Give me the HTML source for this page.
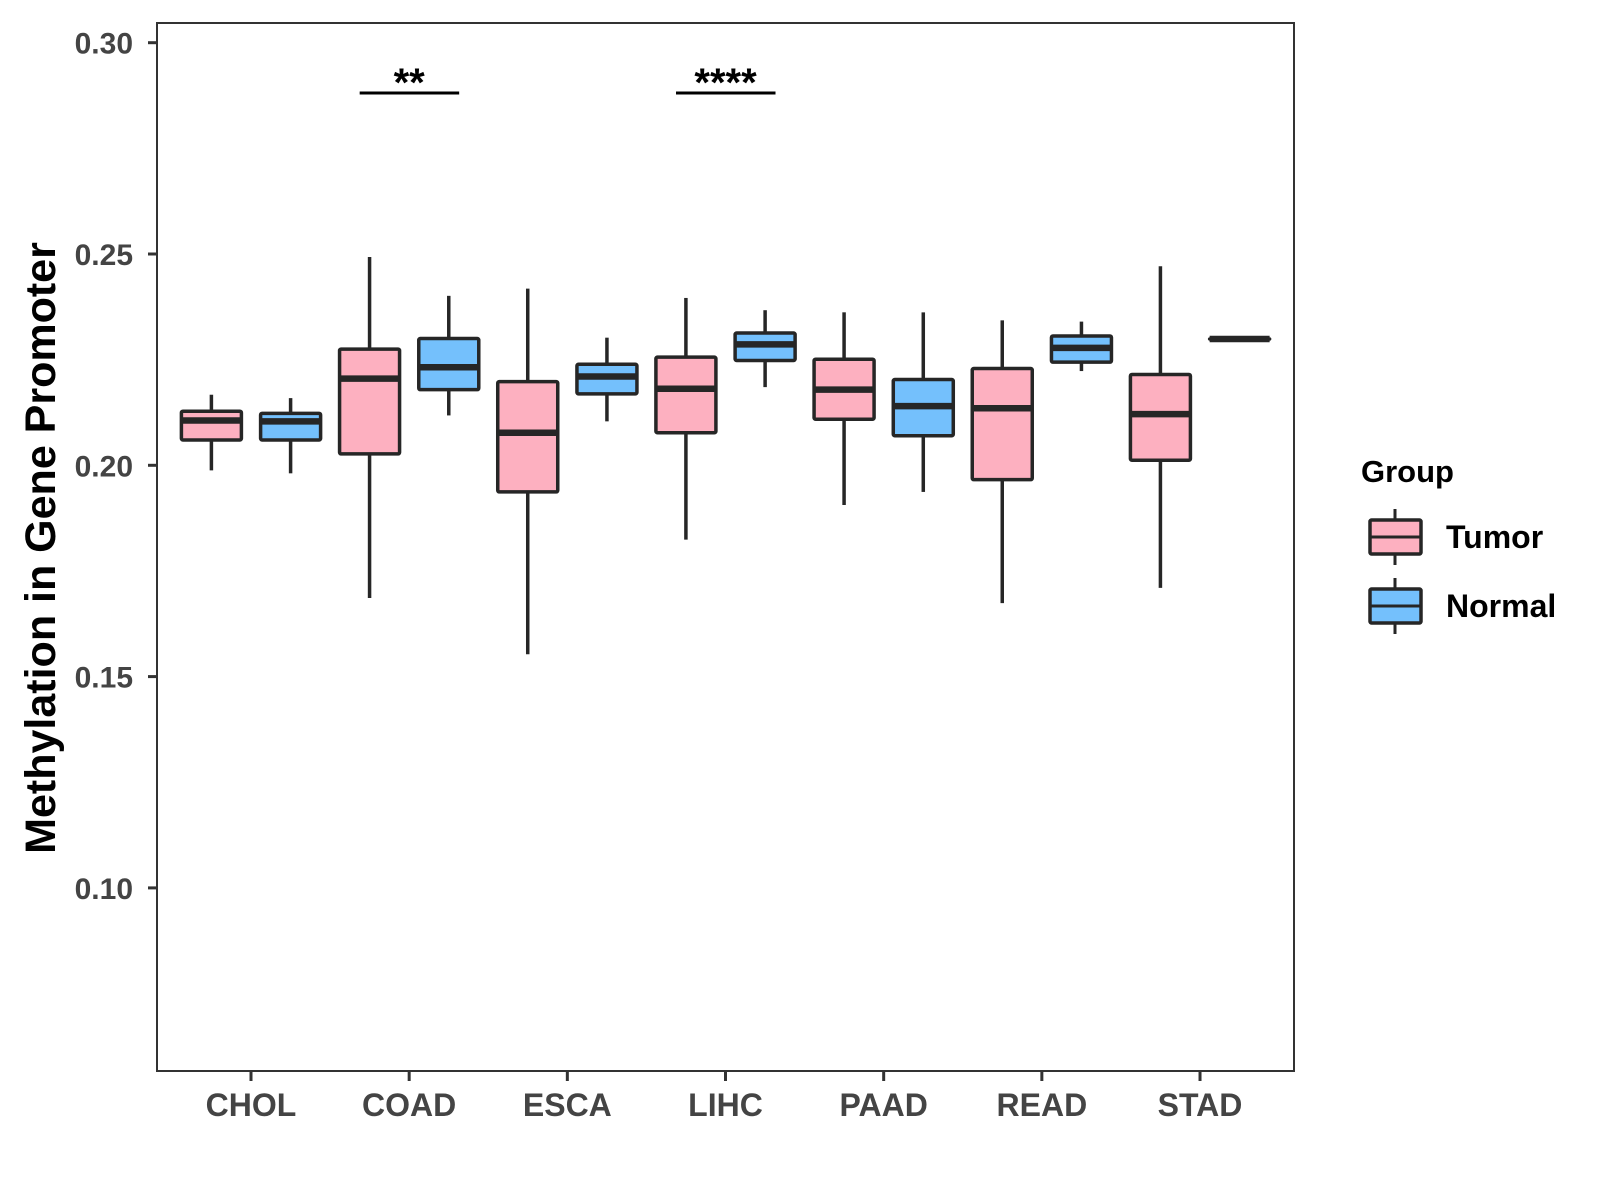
<!DOCTYPE html>
<html><head><meta charset="utf-8"><style>
html,body{margin:0;padding:0;background:#fff;width:1600px;height:1200px;overflow:hidden}
svg text{font-family:"Liberation Sans",Arial,sans-serif;font-weight:bold}
</style></head><body>
<svg id="chart" width="1600" height="1200" xmlns="http://www.w3.org/2000/svg"></svg>
<script>
const categories=["CHOL","COAD","ESCA","LIHC","PAAD","READ","STAD"];
const tumorLow=[0.1988,0.1686,0.1553,0.1824,0.1906,0.1674,0.1710];
const tumorQ1=[0.2060,0.2027,0.1937,0.2077,0.2109,0.1966,0.2012];
const tumorMed=[0.2106,0.2205,0.2077,0.2181,0.2179,0.2135,0.2121];
const tumorQ3=[0.2128,0.2275,0.2198,0.2256,0.2251,0.2229,0.2215];
const tumorHigh=[0.2167,0.2493,0.2418,0.2396,0.2362,0.2343,0.2471];
const normalLow=[0.1981,0.2118,0.2104,0.2185,0.1937,0.2223,0.2299];
const normalQ1=[0.2060,0.2179,0.2169,0.2248,0.2070,0.2244,0.2299];
const normalMed=[0.2104,0.2232,0.2210,0.2286,0.2140,0.2278,0.2299];
const normalQ3=[0.2123,0.2300,0.2239,0.2313,0.2203,0.2306,0.2299];
const normalHigh=[0.2159,0.2401,0.2302,0.2367,0.2362,0.2340,0.2299];
const yTicks=[0.10,0.15,0.20,0.25,0.30];
const yTickLabels=["0.10","0.15","0.20","0.25","0.30"];
const sigCats=["COAD","LIHC"];
const sigLabels=["**","****"];

const NS="http://www.w3.org/2000/svg";
const svg=document.getElementById('chart');
const L=157,R=1294,T=23,B=1071;
const y=v=>42.7+(0.30-v)*4226;
const xc=i=>251+i*158.17;
function el(tag,attrs,parent){const e=document.createElementNS(NS,tag);for(const k in attrs)e.setAttribute(k,attrs[k]);(parent||svg).appendChild(e);return e;}

const panel=el('rect',{x:L,y:T,width:R-L,height:B-T,fill:'#fff',stroke:'#333',"stroke-width":2});



yTicks.forEach((v,i)=>{
  const t=el('line',{x1:L-9,x2:L,y1:y(v),y2:y(v),stroke:'#333',"stroke-width":3});
  
  
  const tx=el('text',{x:L-24,y:y(v)+11,"text-anchor":"end","font-size":30,fill:'#444'});
  tx.textContent=yTickLabels[i];
  
  
});
categories.forEach((c,i)=>{
  const t=el('line',{x1:xc(i),x2:xc(i),y1:B,y2:B+10,stroke:'#333',"stroke-width":3});
  
  
  const tx=el('text',{x:xc(i),y:B+45,"text-anchor":"middle","font-size":32,fill:'#444'});
  tx.textContent=c;
  
  
});
const yt=el('text',{x:0,y:0,transform:'translate(55,548) rotate(-90)',"text-anchor":"middle","font-size":43,fill:'#000'});
yt.textContent='Methylation in Gene Promoter';



function drawBox(cx,lo,q1,md,q3,hi,fill,name){
  const g=el('g',{});
  
  
  const w=60;
  el('line',{x1:cx,x2:cx,y1:y(hi),y2:y(q3),stroke:'#262626',"stroke-width":3.5},g);
  el('line',{x1:cx,x2:cx,y1:y(q1),y2:y(lo),stroke:'#262626',"stroke-width":3.5},g);
  el('rect',{x:cx-w/2,y:y(q3),width:w,height:Math.max(0.1,y(q1)-y(q3)),fill:fill,stroke:'#262626',"stroke-width":3.5,rx:1.5},g);
  el('line',{x1:cx-w/2,x2:cx+w/2,y1:y(md),y2:y(md),stroke:'#262626',"stroke-width":6.5},g);
}
categories.forEach((c,i)=>{
  drawBox(xc(i)-39.6,tumorLow[i],tumorQ1[i],tumorMed[i],tumorQ3[i],tumorHigh[i],'#FDB0C0','box-tumor-'+c.toLowerCase());
  drawBox(xc(i)+39.6,normalLow[i],normalQ1[i],normalMed[i],normalQ3[i],normalHigh[i],'#74C0FC','box-normal-'+c.toLowerCase());
});
sigCats.forEach((c,k)=>{
  const i=categories.indexOf(c);
  const ln=el('line',{x1:xc(i)-49.5,x2:xc(i)+50,y1:93,y2:93,stroke:'#000',"stroke-width":3});
  
  
  const tx=el('text',{x:xc(i),y:96,"text-anchor":"middle","font-size":40,fill:'#000'});
  tx.textContent=sigLabels[k];
  
  
});
const lt=el('text',{x:1361,y:482,"font-size":31,fill:'#000'});
lt.textContent='Group';


[["Tumor",'#FDB0C0',537],["Normal",'#74C0FC',606]].forEach(([lab,col,cy])=>{
  const g=el('g',{});
  
  
  el('line',{x1:1395,x2:1395,y1:cy-28,y2:cy+28,stroke:'#262626',"stroke-width":3},g);
  el('rect',{x:1370,y:cy-17,width:51,height:34,fill:col,stroke:'#262626',"stroke-width":3.5,rx:1.5},g);
  el('line',{x1:1370,x2:1421,y1:cy,y2:cy,stroke:'#262626',"stroke-width":3},g);
  const t=el('text',{x:1446,y:cy+11,"font-size":32,fill:'#000'},g);
  t.textContent=lab;
});
</script>
</body></html>
